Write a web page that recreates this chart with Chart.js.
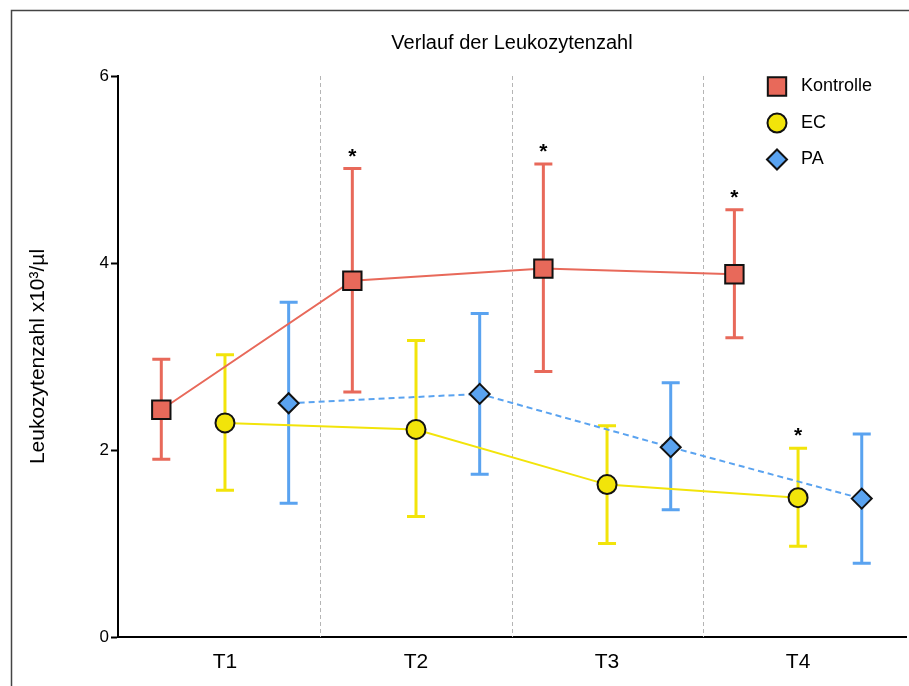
<!DOCTYPE html>
<html>
<head>
<meta charset="utf-8">
<script src="https://cdn.jsdelivr.net/npm/chart.js@4/dist/chart.umd.min.js"></script>
<style>
  html, body { margin: 0; padding: 0; background: #fff; }
  canvas { display: block; }
</style>
</head>
<body>
<canvas id="c" width="909" height="686"></canvas>
<script>
// Leukocyte counts (x10^3/µl): mean with lower / upper error bounds per time point
const categories = ['T1', 'T2', 'T3', 'T4'];

const kontrolleMean = [2.43, 3.81, 3.94, 3.88];
const kontrolleLow  = [1.90, 2.62, 2.84, 3.20];
const kontrolleHigh = [2.97, 5.01, 5.06, 4.57];
const kontrolleSig  = [false, true, true, true];

const ecMean = [2.29, 2.22, 1.63, 1.49];
const ecLow  = [1.57, 1.29, 1.00, 0.97];
const ecHigh = [3.02, 3.17, 2.26, 2.02];
const ecSig  = [false, false, false, true];

const paMean = [2.50, 2.60, 2.03, 1.48];
const paLow  = [1.43, 1.74, 1.36, 0.79];
const paHigh = [3.58, 3.46, 2.72, 2.17];
const paSig  = [false, false, false, false];

const yTicks = [0, 2, 4, 6];

const FONT = "'Liberation Sans', Arial, Helvetica, sans-serif";
const C_KON = '#E8695A';
const C_EC  = '#F2E40A';
const C_PA  = '#5AA3F0';

function points(means, shift) {
  return means.map((v, i) => ({ x: i + 1 + shift, y: v }));
}

function makeSet(label, means, low, high, sig, shift, color, style, radius, dash) {
  return {
    label,
    data: points(means, shift),
    errLow: low,
    errHigh: high,
    sig: sig,
    borderColor: color,
    backgroundColor: color,
    borderWidth: 2,
    borderDash: dash,
    pointStyle: style,
    pointRadius: radius,
    pointHoverRadius: radius,
    pointBackgroundColor: color,
    pointBorderColor: '#111',
    pointBorderWidth: 2,
    tension: 0,
    fill: false,
    clip: false
  };
}

const datasets = [
  makeSet('Kontrolle', kontrolleMean, kontrolleLow, kontrolleHigh, kontrolleSig, -1 / 3, C_KON, 'rect', 13, []),
  makeSet('EC', ecMean, ecLow, ecHigh, ecSig, 0, C_EC, 'circle', 9.5, []),
  makeSet('PA', paMean, paLow, paHigh, paSig, 1 / 3, C_PA, 'rectRot', 10, [6, 4])
];

// Frame around the figure
const framePlugin = {
  id: 'frame',
  afterDraw(chart) {
    const ctx = chart.ctx;
    ctx.save();
    ctx.strokeStyle = '#444';
    ctx.lineWidth = 1.5;
    ctx.strokeRect(11.5, 10.5, 2000, 2000);
    ctx.restore();
  }
};

// Dashed separators between time points and the error bars under the lines
const underlayPlugin = {
  id: 'underlay',
  beforeDatasetsDraw(chart) {
    const { ctx, chartArea, scales } = chart;
    ctx.save();
    ctx.strokeStyle = '#b5b5b5';
    ctx.lineWidth = 1;
    ctx.setLineDash([4, 3]);
    for (let i = 1; i < categories.length; i++) {
      const x = Math.round(scales.x.getPixelForValue(i + 0.5)) + 0.5;
      ctx.beginPath();
      ctx.moveTo(x, chartArea.top);
      ctx.lineTo(x, chartArea.bottom);
      ctx.stroke();
    }
    ctx.setLineDash([]);
    chart.data.datasets.forEach((ds, di) => {
      const meta = chart.getDatasetMeta(di);
      ctx.strokeStyle = ds.borderColor;
      ctx.lineWidth = 3;
      meta.data.forEach((pt, j) => {
        const x = pt.x;
        const yl = scales.y.getPixelForValue(ds.errLow[j]);
        const yh = scales.y.getPixelForValue(ds.errHigh[j]);
        const cap = 9;
        ctx.beginPath();
        ctx.moveTo(x, yl);
        ctx.lineTo(x, yh);
        ctx.moveTo(x - cap, yl);
        ctx.lineTo(x + cap, yl);
        ctx.moveTo(x - cap, yh);
        ctx.lineTo(x + cap, yh);
        ctx.stroke();
      });
    });
    ctx.restore();
  },
  afterDatasetsDraw(chart) {
    const { ctx, scales } = chart;
    ctx.save();
    ctx.fillStyle = '#000';
    ctx.font = 'bold 21px ' + FONT;
    ctx.textAlign = 'center';
    ctx.textBaseline = 'alphabetic';
    chart.data.datasets.forEach((ds, di) => {
      const meta = chart.getDatasetMeta(di);
      meta.data.forEach((pt, j) => {
        if (!ds.sig[j]) return;
        const yh = scales.y.getPixelForValue(ds.errHigh[j]);
        ctx.fillText('*', pt.x, yh - 6);
      });
    });
    ctx.restore();
  }
};

// Legend in the upper right corner of the plot
const legendPlugin = {
  id: 'cornerLegend',
  afterDraw(chart) {
    const ctx = chart.ctx;
    const area = chart.chartArea;
    const x0 = area.right - 129;
    const y0 = area.top + 10.5;
    const step = 36.5;
    ctx.save();
    chart.data.datasets.forEach((ds, i) => {
      const y = y0 + i * step;
      ctx.fillStyle = ds.pointBackgroundColor;
      ctx.strokeStyle = ds.pointBorderColor;
      ctx.lineWidth = ds.pointBorderWidth;
      Chart.helpers.drawPoint(ctx, {
        pointStyle: ds.pointStyle,
        radius: ds.pointRadius,
        borderWidth: ds.pointBorderWidth,
        rotation: 0
      }, x0, y);
      ctx.fillStyle = '#000';
      ctx.font = '18px ' + FONT;
      ctx.textAlign = 'left';
      ctx.textBaseline = 'middle';
      ctx.fillText(ds.label, x0 + 24, y);
    });
    ctx.restore();
  }
};

new Chart(document.getElementById('c'), {
  type: 'line',
  data: { datasets },
  options: {
    responsive: false,
    animation: false,
    devicePixelRatio: 1,
    layout: { autoPadding: false, padding: { top: 0, right: 3, bottom: 0, left: 0 } },
    plugins: {
      legend: { display: false },
      tooltip: { enabled: false },
      title: {
        display: true,
        fullSize: false,
        text: 'Verlauf der Leukozytenzahl',
        color: '#000',
        font: { family: FONT, size: 20, weight: 'normal' },
        padding: { top: 31, bottom: 21 }
      }
    },
    scales: {
      x: {
        type: 'linear',
        min: 0.44,
        max: 4.565,
        afterBuildTicks: s => { s.ticks = categories.map((c, i) => ({ value: i + 1 })); },
        ticks: {
          callback: (v, i) => categories[i],
          color: '#000',
          font: { family: FONT, size: 21 },
          padding: 13,
          autoSkip: false,
          maxRotation: 0
        },
        grid: { display: false, drawTicks: false },
        border: { display: true, color: '#000', width: 2 },
        afterFit: s => { s.height = 49; s.paddingLeft = 0; s.paddingRight = 0; }
      },
      y: {
        min: 0,
        max: 6,
        afterBuildTicks: s => { s.ticks = yTicks.map(v => ({ value: v })); },
        ticks: {
          color: '#000',
          font: { family: FONT, size: 17 },
          padding: 2
        },
        grid: {
          drawOnChartArea: false,
          drawTicks: true,
          tickLength: 7,
          tickColor: '#000',
          tickWidth: 2
        },
        border: { display: true, color: '#000', width: 2 },
        title: {
          display: true,
          text: 'Leukozytenzahl x10³/µl',
          color: '#000',
          font: { family: FONT, size: 21 },
          padding: { top: 26, bottom: 0 }
        },
        afterFit: s => { s.width = 118; }
      }
    }
  },
  plugins: [underlayPlugin, legendPlugin, framePlugin]
});
</script>
</body>
</html>
